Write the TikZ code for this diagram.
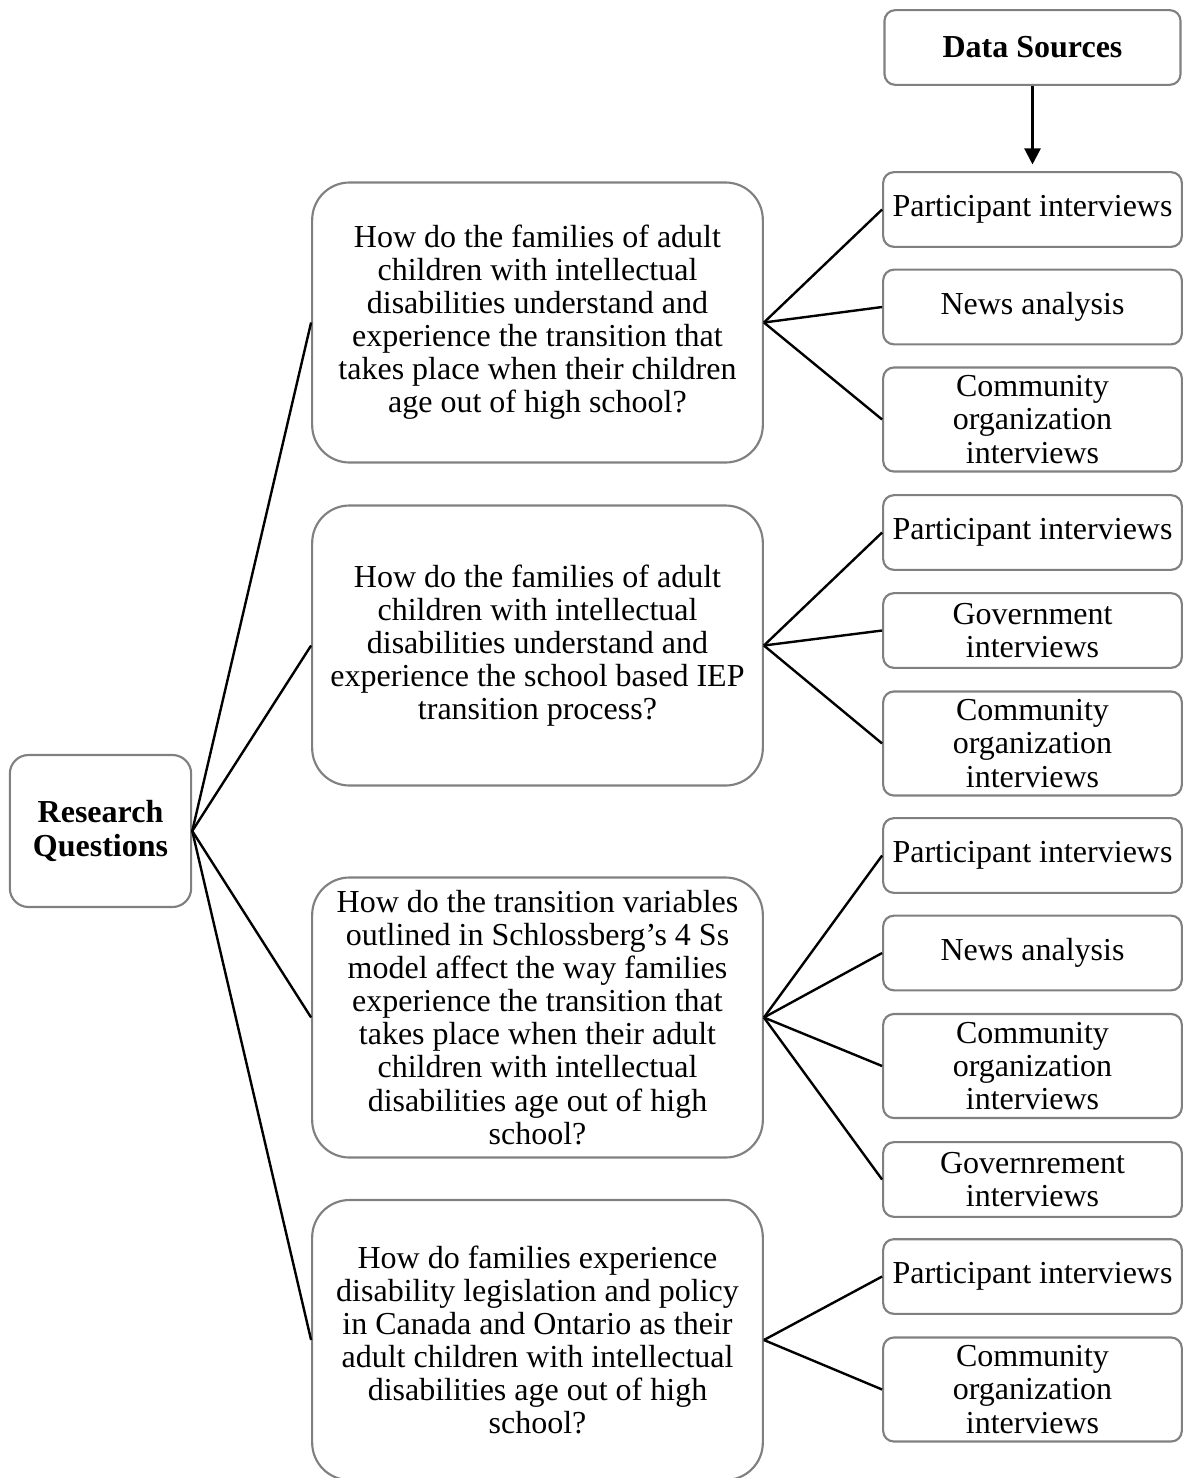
\documentclass[tikz,border=0pt]{standalone}
\usepackage{fontspec}
\setmainfont{Liberation Serif}
\usetikzlibrary{arrows.meta}
\definecolor{boxgray}{RGB}{128,128,128}

\begin{document}
\begin{tikzpicture}[x=0.375pt,y=-0.375pt,
  font=\fontsize{12}{12.4}\selectfont,
  box/.style={draw=boxgray, line width=0.8pt, fill=white, align=center, inner sep=0pt},
  srcbox/.style={box, rounded corners=4pt, minimum width=112pt, minimum height=28pt},
  tallbox/.style={srcbox, minimum height=39pt},
  qbox/.style={box, rounded corners=14pt, minimum width=169pt, minimum height=105pt},
  link/.style={line width=0.9pt}]
\useasboundingbox (0,0) rectangle (1183,1478);
\node[box, rounded corners=7pt, minimum width=68pt, minimum height=57pt,
  font=\bfseries\fontsize{12}{13}\selectfont] (rq) at (100.5,831) {Research\\Questions};
\node[srcbox, minimum width=111pt, font=\bfseries\fontsize{12}{12.4}\selectfont] (ds) at (1032.5,47.5) {Data Sources};

\node[qbox] (q1) at (537.5,322.5) {How do the families of adult\\children with intellectual\\disabilities understand and\\experience the transition that\\takes place when their children\\age out of high school?};
\node[qbox] (q2) at (537.5,645.5) {How do the families of adult\\children with intellectual\\disabilities understand and\\experience the school based IEP\\transition process?};
\node[qbox] (q3) at (537.5,1017.5) {How do the transition variables\\outlined in Schlossberg’s 4 Ss\\model affect the way families\\experience the transition that\\takes place when their adult\\children with intellectual\\disabilities age out of high\\school?};
\node[qbox] (q4) at (537.5,1340) {How do families experience\\disability legislation and policy\\in Canada and Ontario as their\\adult children with intellectual\\disabilities age out of high\\school?};

\node[srcbox] (pi1) at (1032.5,209.5) {Participant interviews};
\node[srcbox] (na1) at (1032.5,307) {News analysis};
\node[tallbox] (co1) at (1032.5,419.5) {Community\\organization\\interviews};
\node[srcbox] (pi2) at (1032.5,532.5) {Participant interviews};
\node[srcbox] (gv2) at (1032.5,630.5) {Government\\interviews};
\node[tallbox] (co2) at (1032.5,743.5) {Community\\organization\\interviews};
\node[srcbox] (pi3) at (1032.5,855.5) {Participant interviews};
\node[srcbox] (na3) at (1032.5,953) {News analysis};
\node[tallbox] (co3) at (1032.5,1066) {Community\\organization\\interviews};
\node[srcbox] (gv3) at (1032.5,1179.5) {Governrement\\interviews};
\node[srcbox] (pi4) at (1032.5,1276.5) {Participant interviews};
\node[tallbox] (co4) at (1032.5,1389.5) {Community\\organization\\interviews};

\draw[link, -{Triangle[length=6pt,width=6pt]}, shorten >=2.5pt] (ds.south) -- (pi1.north);
\foreach \q in {q1,q2,q3,q4} \draw[link] (rq.east) -- (\q.west);
\foreach \s in {pi1,na1,co1} \draw[link] (q1.east) -- (\s.west);
\foreach \s in {pi2,gv2,co2} \draw[link] (q2.east) -- (\s.west);
\foreach \s in {pi3,na3,co3,gv3} \draw[link] (q3.east) -- (\s.west);
\foreach \s in {pi4,co4} \draw[link] (q4.east) -- (\s.west);
\end{tikzpicture}
\end{document}
